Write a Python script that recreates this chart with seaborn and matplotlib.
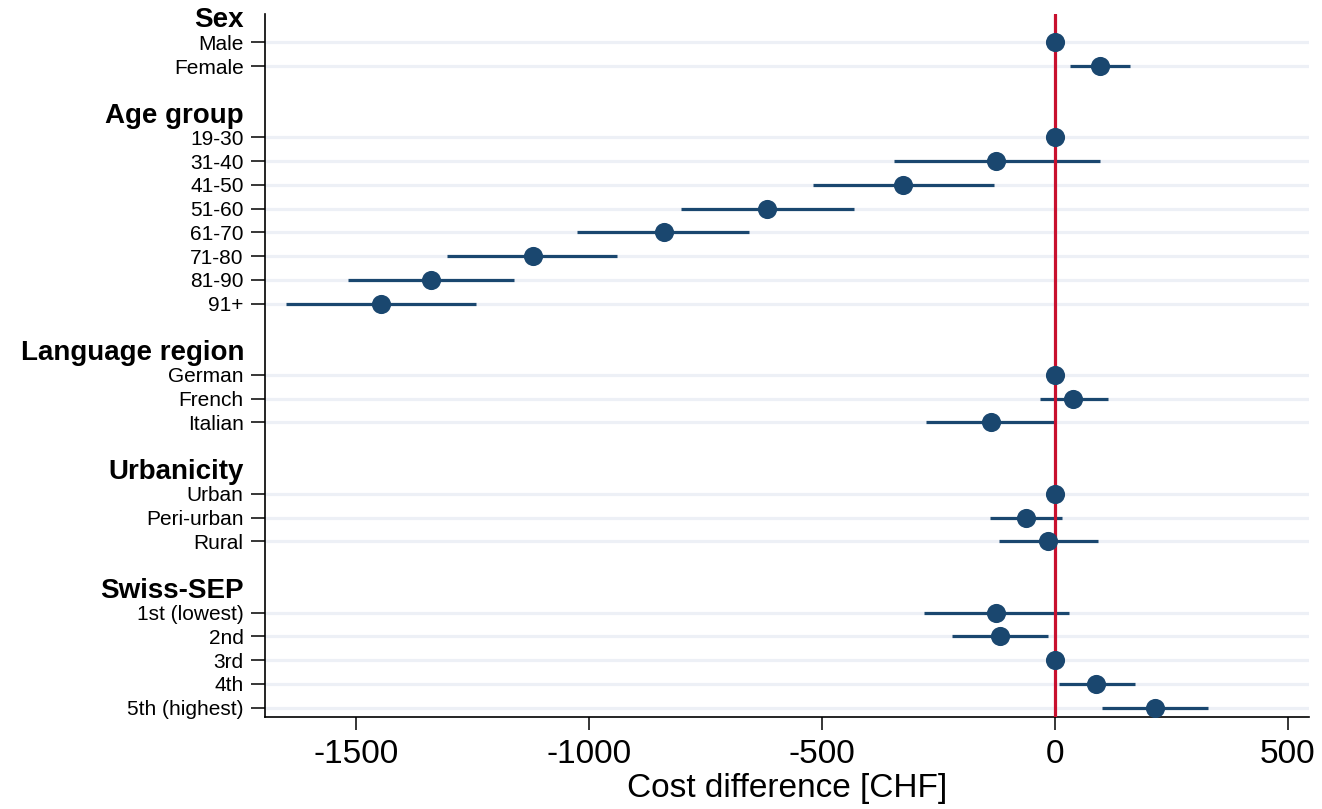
import numpy as np
import pandas as pd
import matplotlib
matplotlib.use("Agg")
import matplotlib.pyplot as plt
import seaborn as sns

# ---- data ----
groups = ["Sex", "Age group", "Language region", "Urbanicity", "Swiss-SEP"]

sex_labels = ["Male", "Female"]
sex_est = [0, 97]
sex_lo = [np.nan, 33]
sex_hi = [np.nan, 162]

age_labels = ["19-30", "31-40", "41-50", "51-60", "61-70", "71-80", "81-90", "91+"]
age_est = [0, -126, -327, -618, -840, -1121, -1339, -1448]
age_lo = [np.nan, -345, -520, -804, -1027, -1305, -1517, -1650]
age_hi = [np.nan, 97, -130, -432, -656, -940, -1161, -1244]

lang_labels = ["German", "French", "Italian"]
lang_est = [0, 39, -137]
lang_lo = [np.nan, -32, -278]
lang_hi = [np.nan, 114, 2]

urb_labels = ["Urban", "Peri-urban", "Rural"]
urb_est = [0, -63, -15]
urb_lo = [np.nan, -139, -121]
urb_hi = [np.nan, 15, 92]

sep_labels = ["1st (lowest)", "2nd", "3rd", "4th", "5th (highest)"]
sep_est = [-126, -119, 0, 89, 214]
sep_lo = [-281, -221, np.nan, 8, 100]
sep_hi = [30, -15, np.nan, 172, 329]

x_ticks = [-1500, -1000, -500, 0, 500]
x_label = "Cost difference [CHF]"

# ---- assemble rows ----
blocks = [
    (sex_labels, sex_est, sex_lo, sex_hi),
    (age_labels, age_est, age_lo, age_hi),
    (lang_labels, lang_est, lang_lo, lang_hi),
    (urb_labels, urb_est, urb_lo, urb_hi),
    (sep_labels, sep_est, sep_lo, sep_hi),
]
rows = []
header_rows = []
r = 0
for g, (labs, est, lo, hi) in zip(groups, blocks):
    header_rows.append(r)
    for i, lab in enumerate(labs):
        rows.append(dict(group=g, label=lab, row=r + 1 + i,
                         est=est[i], lo=lo[i], hi=hi[i]))
    r += len(labs) + 2
df = pd.DataFrame(rows)

# ---- styling ----
sns.set_theme(style="white")
plt.rcParams["font.family"] = ["Liberation Sans", "DejaVu Sans"]
plt.rcParams["text.color"] = "black"
plt.rcParams["axes.labelcolor"] = "black"
plt.rcParams["xtick.color"] = "black"
plt.rcParams["ytick.color"] = "black"

navy = "#1a476f"
red = "#c8102e"
grid_col = "#edf0f6"

fig = plt.figure(figsize=(13.22, 8.09), dpi=100)
ax = fig.add_axes([0.2005, 0.1133, 0.7899, 0.8693])

# CI lines
ci = df.dropna(subset=["lo", "hi"])
ax.hlines(ci["row"], ci["lo"], ci["hi"], color=navy, lw=2.3, zorder=2)
# reference line
ax.axvline(0, color=red, lw=2.3, zorder=3)
# point estimates
sns.scatterplot(data=df, x="est", y="row", ax=ax, color=navy, s=190,
                marker="o", edgecolor=navy, linewidth=0, zorder=4, legend=False)

ax.set_xlim(-1696, 546)
ax.set_ylim(29.41, -0.19)

ax.set_yticks(df["row"])
ax.set_yticklabels(df["label"], fontsize=15)
ax.set_xticks(x_ticks)
ax.set_xticklabels([str(t) for t in x_ticks], fontsize=24)
ax.set_xlabel(x_label, fontsize=24, labelpad=2, color="black")
ax.set_ylabel("")

ax.tick_params(axis="y", length=10, width=1.1, pad=5.5, color="black",
               left=True, labelcolor="black")
ax.tick_params(axis="x", length=9.5, width=1.1, pad=6, color="black",
               bottom=True, labelcolor="black")

ax.grid(axis="y", color=grid_col, lw=2.3, zorder=0)
ax.grid(axis="x", visible=False)
ax.set_axisbelow(True)

for s in ["top", "right"]:
    ax.spines[s].set_visible(False)
for s in ["left", "bottom"]:
    ax.spines[s].set_color("black")
    ax.spines[s].set_linewidth(1.2)

# group headers
for g, hr in zip(groups, header_rows):
    ax.annotate(g, xy=(0, hr + 0.08), xycoords=("axes fraction", "data"),
                xytext=(-21, 0), textcoords="offset pixels",
                ha="right", va="center", fontsize=20, fontweight="bold",
                color="black", annotation_clip=False)

fig.savefig("out.png", dpi=100)
